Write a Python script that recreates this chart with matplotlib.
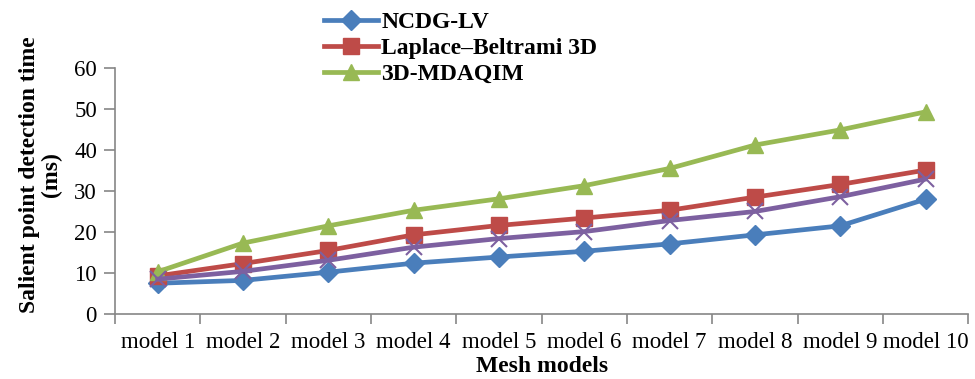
import matplotlib
matplotlib.use('Agg')
import matplotlib.pyplot as plt
import numpy as np

plt.rcParams['font.family'] = ['Liberation Serif', 'DejaVu Serif']

models = ['model 1', 'model 2', 'model 3', 'model 4', 'model 5',
          'model 6', 'model 7', 'model 8', 'model 9', 'model 10']
ncdg = [7.5, 8.2, 10.2, 12.4, 13.9, 15.3, 17.1, 19.3, 21.5, 28.0]
laplace = [9.3, 12.3, 15.5, 19.3, 21.6, 23.4, 25.3, 28.5, 31.6, 35.1]
other = [8.5, 10.4, 13.1, 16.3, 18.4, 20.1, 22.8, 25.0, 28.6, 32.9]
mdaqim = [10.3, 17.3, 21.5, 25.3, 28.1, 31.3, 35.5, 41.2, 44.9, 49.3]

fig = plt.figure(figsize=(9.75, 3.79), dpi=100)
ax = fig.add_axes([0.118, 0.1715, 0.875, 0.6491])

x = np.arange(len(models))
ax.plot(x, ncdg, color='#4A7EBB', lw=3.4, marker='D', ms=10, label='NCDG-LV')
ax.plot(x, laplace, color='#BE4B48', lw=3.4, marker='s', ms=11,
        label='Laplace\u2013Beltrami 3D')
ax.plot(x, mdaqim, color='#98B954', lw=3.4, marker='^', ms=12, label='3D-MDAQIM')
ax.plot(x, other, color='#7D60A0', lw=3.4, marker='x', ms=11, mew=1.5)

ax.set_xlim(-0.5, len(models) - 0.5)
ax.set_ylim(0, 60)
ax.set_yticks(range(0, 61, 10))
ax.set_xticks(x)
ax.set_xticklabels(models)
ax.set_xticks(np.arange(-0.5, len(models), 1), minor=True)
ax.tick_params(axis='x', which='major', length=0, pad=13, labelsize=16.5)
ax.tick_params(axis='x', which='minor', length=7, color='#868686', width=1.2)
ax.tick_params(axis='y', length=8, color='#868686', width=1.2, labelsize=16.5, pad=5)

for s in ['top', 'right']:
    ax.spines[s].set_visible(False)
for s in ['left', 'bottom']:
    ax.spines[s].set_color('#868686')
    ax.spines[s].set_linewidth(1.2)

ax.set_xlabel('Mesh models', fontsize=17, fontweight='bold', labelpad=2)
fig.text(0.042, 0.54, 'Salient point detection time\n(ms)', rotation=90,
         ha='center', va='center', fontsize=17, fontweight='bold',
         linespacing=1.05)

leg = fig.legend(loc='upper left', bbox_to_anchor=(0.31, 1.025), frameon=False,
                 handlelength=2.3, handletextpad=0.15,
                 labelspacing=0.18, prop={'weight': 'bold', 'size': 17})

fig.savefig('out.png', dpi=100)
